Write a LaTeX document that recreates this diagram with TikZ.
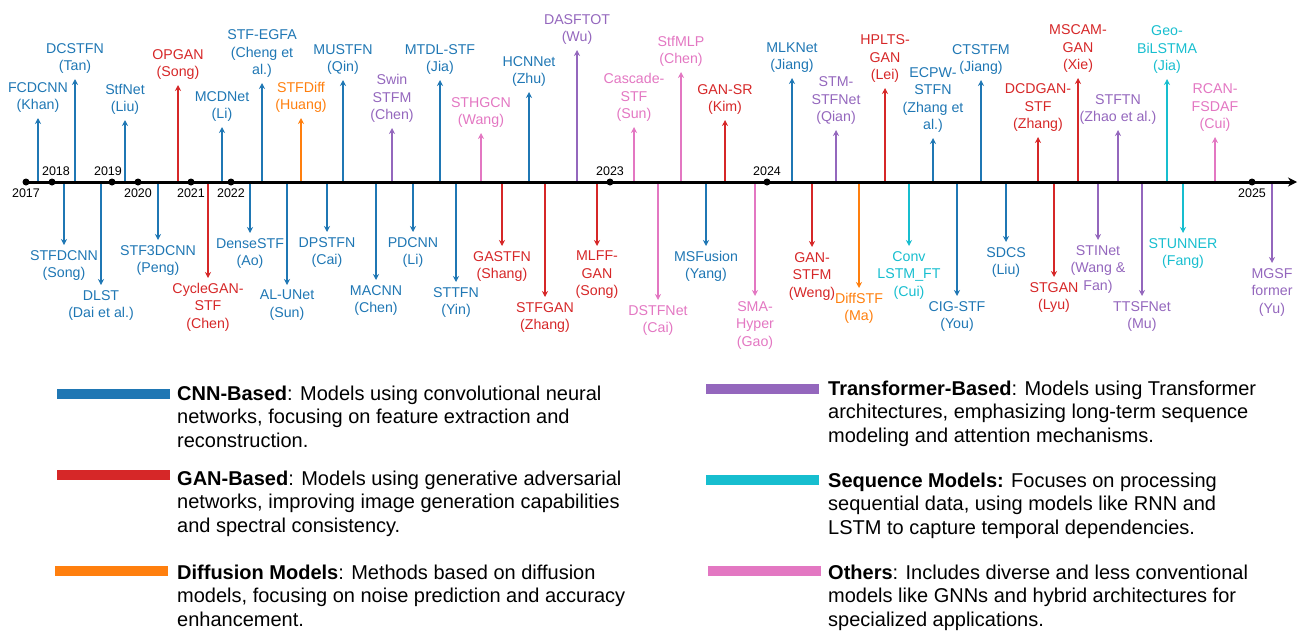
\documentclass[tikz,border=0pt]{standalone}
\usepackage{fontspec}
\setmainfont{Liberation Sans}
\usetikzlibrary{arrows.meta,positioning}

\definecolor{cnn}{HTML}{1F77B4}
\definecolor{gan}{HTML}{D62728}
\definecolor{diff}{HTML}{FF7F0E}
\definecolor{trans}{HTML}{9467BD}
\definecolor{seq}{HTML}{17BECF}
\definecolor{other}{HTML}{E377C2}

\tikzset{
  lab/.style={align=center, font=\fontsize{14.2}{17.5}\selectfont, inner xsep=2pt, inner ysep=5pt},
  evup/.style={lab, anchor=south, text=#1},
  evdn/.style={lab, anchor=north, text=#1},
  stemline/.style={draw=#1, line width=2.2pt, -{Stealth[length=6pt,width=6pt]}},
  yr/.style={font=\fontsize{12.5}{14}\selectfont, inner sep=0pt},
  yeardot/.style={circle, fill=black, inner sep=0pt, minimum size=7pt},
  legbar/.style={minimum width=113pt, minimum height=10.5pt, inner sep=0pt},
  legtext/.style={align=left, anchor=north west, inner sep=0pt, font=\fontsize{20}{23.5}\selectfont},
}

\begin{document}
\begin{tikzpicture}[x=1pt, y=-1pt]
\useasboundingbox (0,0) rectangle (1298,630);

% ノード(上側)
\node[evup=cnn]   (fcdcnn)  at (38,118)   {FCDCNN\\(Khan)};
\node[evup=cnn]   (dcstfn)  at (75,79)    {DCSTFN\\(Tan)};
\node[evup=cnn]   (stfnet)  at (125,120)  {StfNet\\(Liu)};
\node[evup=gan]   (opgan)   at (178,85)   {OPGAN\\(Song)};
\node[evup=cnn]   (mcdnet)  at (222,127)  {MCDNet\\(Li)};
\node[evup=cnn]   (stfegfa) at (262,83)   {STF-EGFA\\(Cheng et\\al.)};
\node[evup=diff]  (stfdiff) at (301,118)  {STFDiff\\(Huang)};
\node[evup=cnn]   (mustfn)  at (343,80)   {MUSTFN\\(Qin)};
\node[evup=trans] (swin)    at (392,128)  {Swin\\STFM\\(Chen)};
\node[evup=cnn]   (mtdl)    at (440,80)   {MTDL-STF\\(Jia)};
\node[evup=other] (sthgcn)  at (481,133)  {STHGCN\\(Wang)};
\node[evup=cnn]   (hcnnet)  at (529,92)   {HCNNet\\(Zhu)};
\node[evup=trans] (dasftot) at (577,50)   {DASFTOT\\(Wu)};
\node[evup=other] (cascade) at (634,127)  {Cascade-\\STF\\(Sun)};
\node[evup=other] (stfmlp)  at (681,72)   {StfMLP\\(Chen)};
\node[evup=gan]   (gansr)   at (725,120)  {GAN-SR\\(Kim)};
\node[evup=cnn]   (mlknet)  at (792,78)   {MLKNet\\(Jiang)};
\node[evup=trans] (stmstf)  at (836,130)  {STM-\\STFNet\\(Qian)};
\node[evup=gan]   (hplts)   at (885,88)   {HPLTS-\\GAN\\(Lei)};
\node[evup=cnn]   (ecpw)    at (933,138)  {ECPW-\\STFN\\(Zhang et\\al.)};
\node[evup=cnn]   (ctstfm)  at (981,80)   {CTSTFM\\(Jiang)};
\node[evup=gan]   (dcdgan)  at (1038,137) {DCDGAN-\\STF\\(Zhang)};
\node[evup=gan]   (mscam)   at (1078,78)  {MSCAM-\\GAN\\(Xie)};
\node[evup=trans] (stftn)   at (1118,130) {STFTN\\(Zhao et al.)};
\node[evup=seq]   (geobi)   at (1167,79)  {Geo-\\BiLSTMA\\(Jia)};
\node[evup=other] (rcan)    at (1215,137) {RCAN-\\FSDAF\\(Cui)};

% ノード(下側)
\node[evdn=cnn]   (stfdcnn)  at (64,245)   {STFDCNN\\(Song)};
\node[evdn=cnn]   (dlst)     at (101,285)  {DLST\\(Dai et al.)};
\node[evdn=cnn]   (stf3d)    at (158,240)  {STF3DCNN\\(Peng)};
\node[evdn=gan]   (cyclegan) at (208,278)  {CycleGAN-\\STF\\(Chen)};
\node[evdn=cnn]   (densestf) at (250,233)  {DenseSTF\\(Ao)};
\node[evdn=cnn]   (alunet)   at (287,285)  {AL-UNet\\(Sun)};
\node[evdn=cnn]   (dpstfn)   at (327,232)  {DPSTFN\\(Cai)};
\node[evdn=cnn]   (macnn)    at (376,280)  {MACNN\\(Chen)};
\node[evdn=cnn]   (pdcnn)    at (413,232)  {PDCNN\\(Li)};
\node[evdn=cnn]   (sttfn)    at (456,282)  {STTFN\\(Yin)};
\node[evdn=gan]   (gastfn)   at (502,246)  {GASTFN\\(Shang)};
\node[evdn=gan]   (stfgan)   at (545,297)  {STFGAN\\(Zhang)};
\node[evdn=gan]   (mlffgan)  at (597,246)  {MLFF-\\GAN\\(Song)};
\node[evdn=other] (dstfnet)  at (658,300)  {DSTFNet\\(Cai)};
\node[evdn=cnn]   (msfusion) at (706,246)  {MSFusion\\(Yang)};
\node[evdn=other] (smahyper) at (755,296)  {SMA-\\Hyper\\(Gao)};
\node[evdn=gan]   (ganstfm)  at (812,247)  {GAN-\\STFM\\(Weng)};
\node[evdn=diff]  (diffstf)  at (859,288)  {DiffSTF\\(Ma)};
\node[evdn=seq]   (convlstm) at (909,246)  {Conv\\LSTM\_FT\\(Cui)};
\node[evdn=cnn]   (cigstf)   at (957,296)  {CIG-STF\\(You)};
\node[evdn=cnn]   (sdcs)     at (1006,242) {SDCS\\(Liu)};
\node[evdn=gan]   (stgan)    at (1054,277) {STGAN\\(Lyu)};
\node[evdn=trans] (stinet)   at (1098,240) {STINet\\(Wang \&\\Fan)};
\node[evdn=trans] (ttsfnet)  at (1142,296) {TTSFNet\\(Mu)};
\node[evdn=seq]   (stunner)  at (1183,233) {STUNNER\\(Fang)};
\node[evdn=trans] (mgsf)     at (1272,263) {MGSF\\former\\(Yu)};

% 矢印
\coordinate (ax) at (0,182);
\draw[stemline=cnn]   (fcdcnn |- ax)  -- (fcdcnn);
\draw[stemline=cnn]   (dcstfn |- ax)  -- (dcstfn);
\draw[stemline=cnn]   (stfnet |- ax)  -- (stfnet);
\draw[stemline=gan]   (opgan |- ax)   -- (opgan);
\draw[stemline=cnn]   (mcdnet |- ax)  -- (mcdnet);
\draw[stemline=cnn]   (stfegfa |- ax) -- (stfegfa);
\draw[stemline=diff]  (stfdiff |- ax) -- (stfdiff);
\draw[stemline=cnn]   (mustfn |- ax)  -- (mustfn);
\draw[stemline=trans] (swin |- ax)    -- (swin);
\draw[stemline=cnn]   (mtdl |- ax)    -- (mtdl);
\draw[stemline=other] (sthgcn |- ax)  -- (sthgcn);
\draw[stemline=cnn]   (hcnnet |- ax)  -- (hcnnet);
\draw[stemline=trans] (dasftot |- ax) -- (dasftot);
\draw[stemline=other] (cascade |- ax) -- (cascade);
\draw[stemline=other] (stfmlp |- ax)  -- (stfmlp);
\draw[stemline=gan]   (gansr |- ax)   -- (gansr);
\draw[stemline=cnn]   (mlknet |- ax)  -- (mlknet);
\draw[stemline=trans] (stmstf |- ax)  -- (stmstf);
\draw[stemline=gan]   (hplts |- ax)   -- (hplts);
\draw[stemline=cnn]   (ecpw |- ax)    -- (ecpw);
\draw[stemline=cnn]   (ctstfm |- ax)  -- (ctstfm);
\draw[stemline=gan]   (dcdgan |- ax)  -- (dcdgan);
\draw[stemline=gan]   (mscam |- ax)   -- (mscam);
\draw[stemline=trans] (stftn |- ax)   -- (stftn);
\draw[stemline=seq]   (geobi |- ax)   -- (geobi);
\draw[stemline=other] (rcan |- ax)    -- (rcan);

\draw[stemline=cnn]   (stfdcnn |- ax)  -- (stfdcnn);
\draw[stemline=cnn]   (dlst |- ax)     -- (dlst);
\draw[stemline=cnn]   (stf3d |- ax)    -- (stf3d);
\draw[stemline=gan]   (cyclegan |- ax) -- (cyclegan);
\draw[stemline=cnn]   (densestf |- ax) -- (densestf);
\draw[stemline=cnn]   (alunet |- ax)   -- (alunet);
\draw[stemline=cnn]   (dpstfn |- ax)   -- (dpstfn);
\draw[stemline=cnn]   (macnn |- ax)    -- (macnn);
\draw[stemline=cnn]   (pdcnn |- ax)    -- (pdcnn);
\draw[stemline=cnn]   (sttfn |- ax)    -- (sttfn);
\draw[stemline=gan]   (gastfn |- ax)   -- (gastfn);
\draw[stemline=gan]   (stfgan |- ax)   -- (stfgan);
\draw[stemline=gan]   (mlffgan |- ax)  -- (mlffgan);
\draw[stemline=other] (dstfnet |- ax)  -- (dstfnet);
\draw[stemline=cnn]   (msfusion |- ax) -- (msfusion);
\draw[stemline=other] (smahyper |- ax) -- (smahyper);
\draw[stemline=gan]   (ganstfm |- ax)  -- (ganstfm);
\draw[stemline=diff]  (diffstf |- ax)  -- (diffstf);
\draw[stemline=seq]   (convlstm |- ax) -- (convlstm);
\draw[stemline=cnn]   (cigstf |- ax)   -- (cigstf);
\draw[stemline=cnn]   (sdcs |- ax)     -- (sdcs);
\draw[stemline=gan]   (stgan |- ax)    -- (stgan);
\draw[stemline=trans] (stinet |- ax)   -- (stinet);
\draw[stemline=trans] (ttsfnet |- ax)  -- (ttsfnet);
\draw[stemline=seq]   (stunner |- ax)  -- (stunner);
\draw[stemline=trans] (mgsf |- ax)     -- (mgsf);

% 時間軸
\coordinate (axs) at (24,182);
\coordinate (axe) at (1297,182);
\draw[line width=3pt, -{Stealth[length=9pt,width=9pt]}] (axs) -- (axe);

\node[yeardot] (d2017) at (26,182)   {};
\node[yeardot] (d2018) at (52,182)   {};
\node[yeardot] (d2019) at (112,182)  {};
\node[yeardot] (d2020) at (138,182)  {};
\node[yeardot] (d2021) at (191,182)  {};
\node[yeardot] (d2022) at (231,182)  {};
\node[yeardot] (d2023) at (610,182)  {};
\node[yeardot] (d2024) at (767,182)  {};
\node[yeardot] (d2025) at (1252,182) {};

\node[yr, below=3pt of d2017] (y2017) {2017};
\node[yr, above=2pt of d2018, xshift=4pt] (y2018) {2018};
\node[yr, above=2pt of d2019, xshift=-4pt] (y2019) {2019};
\node[yr, below=3pt of d2020] (y2020) {2020};
\node[yr, below=3pt of d2021] (y2021) {2021};
\node[yr, below=3pt of d2022] (y2022) {2022};
\node[yr, above=2pt of d2023] (y2023) {2023};
\node[yr, above=2pt of d2024] (y2024) {2024};
\node[yr, below=3pt of d2025] (y2025) {2025};

% 凡例
\node[legbar, fill=cnn]   (kcnn)   at (113,394) {};
\node[legbar, fill=gan]   (kgan)   at (113,475) {};
\node[legbar, fill=diff]  (kdiff)  at (111,571) {};
\node[legbar, fill=trans] (ktrans) at (762,389) {};
\node[legbar, fill=seq]   (kseq)   at (762,480) {};
\node[legbar, fill=other] (kother) at (764,571) {};

\node[legtext] (tcnn) at (177,385.5)
  {\textbf{CNN-Based}: Models using convolutional neural\\networks, focusing on feature extraction and\\reconstruction.};
\node[legtext] (tgan) at (177,470.5)
  {\textbf{GAN-Based}: Models using generative adversarial\\networks, improving image generation capabilities\\and spectral consistency.};
\node[legtext] (tdiff) at (177,564.5)
  {\textbf{Diffusion Models}: Methods based on diffusion\\models, focusing on noise prediction and accuracy\\enhancement.};
\node[legtext] (ttrans) at (828,380.5)
  {\textbf{Transformer-Based}: Models using Transformer\\architectures, emphasizing long-term sequence\\modeling and attention mechanisms.};
\node[legtext] (tseq) at (828,472.5)
  {\textbf{Sequence Models:} Focuses on processing\\sequential data, using models like RNN and\\LSTM to capture temporal dependencies.};
\node[legtext] (tother) at (828,564.5)
  {\textbf{Others}: Includes diverse and less conventional\\models like GNNs and hybrid architectures for\\specialized applications.};
\end{tikzpicture}
\end{document}
